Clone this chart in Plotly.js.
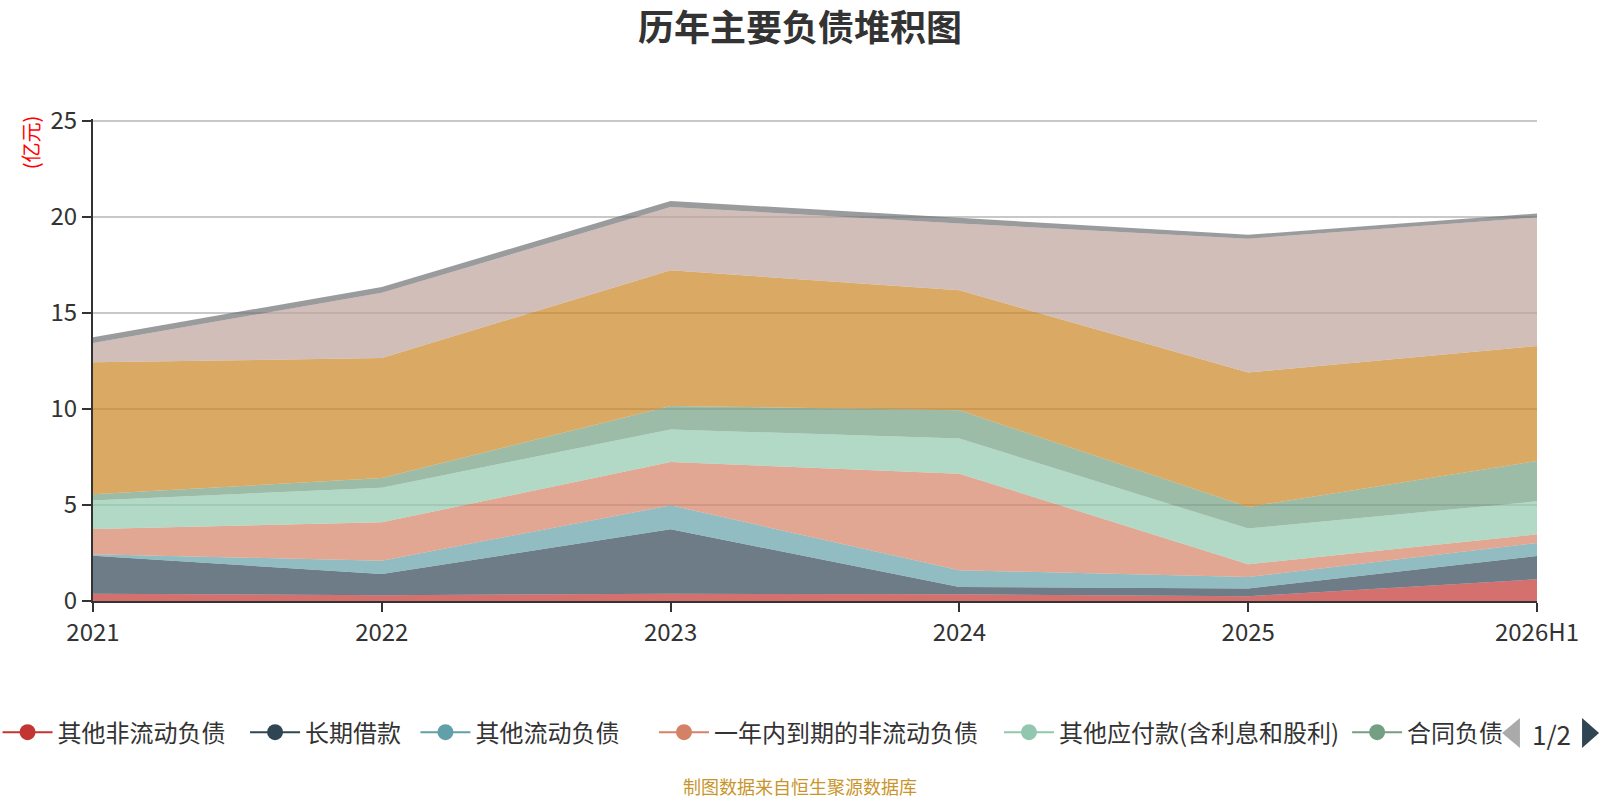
<!DOCTYPE html>
<html>
<head>
<meta charset="utf-8">
<script src="https://cdn.plot.ly/plotly-3.0.1.min.js"></script>
<style>
  html, body { margin: 0; padding: 0; background: #fff; }
  #chart { width: 1600px; height: 800px; }
</style>
</head>
<body>
<div id="chart"></div>
<script>
const years = ["2021", "2022", "2023", "2024", "2025", "2026H1"];

// 单位：亿元，自下而上堆积
const otherNonCurrent = [0.38, 0.3, 0.38, 0.35, 0.25, 1.13];
const longTermLoans = [1.98, 1.1, 3.35, 0.38, 0.4, 1.21];
const otherCurrent = [0.07, 0.7, 1.25, 0.87, 0.6, 0.68];
const currentPortion = [1.32, 2.0, 2.26, 5.03, 0.66, 0.45];
const otherPayables = [1.49, 1.8, 1.69, 1.83, 1.86, 1.72];
const contractLiab = [0.32, 0.5, 1.23, 1.47, 1.13, 2.1];
const accountsPayable = [6.87, 6.25, 7.06, 6.25, 7.0, 5.99];
const shortTermLoans = [1.01, 3.4, 3.3, 3.48, 6.97, 6.69];
const taxesPayable = [0.3, 0.3, 0.31, 0.3, 0.2, 0.21];

const seriesNames = [
  "其他非流动负债",
  "长期借款",
  "其他流动负债",
  "一年内到期的非流动负债",
  "其他应付款(含利息和股利)",
  "合同负债",
  "应付账款",
  "短期借款",
  "应交税费",
];
const seriesValues = [
  otherNonCurrent, longTermLoans, otherCurrent, currentPortion,
  otherPayables, contractLiab, accountsPayable, shortTermLoans, taxesPayable,
];
const palette = [
  "#c23531", "#2f4554", "#61a0a8", "#d48265", "#91c7ae",
  "#749f83", "#ca8622", "#bda29a", "#6e7074",
];
// 图例第 1 页的条目位置（paper x）
const legendSlots = [-0.0661, 0.1053, 0.2233, 0.3885, 0.6274, 0.8685];

function hexToRgba(hex, a) {
  const n = parseInt(hex.slice(1), 16);
  return `rgba(${(n >> 16) & 255},${(n >> 8) & 255},${n & 255},${a})`;
}

const font = "'Noto Sans CJK SC', 'Noto Sans', sans-serif";

const areaTraces = seriesNames.map((name, i) => ({
  type: "scatter",
  mode: "lines",
  name: name,
  x: years,
  y: seriesValues[i],
  stackgroup: "debt",
  line: { width: 0, color: palette[i] },
  fillcolor: hexToRgba(palette[i], 0.7),
  showlegend: false,
  hoverinfo: "skip",
}));

// legend-only entries (line + circle), one small legend each so spacing follows the original
const legendKey = (i) => (i === 0 ? "legend" : "legend" + (i + 1));
const legendTraces = legendSlots.map((_, i) => ({
  type: "scatter",
  mode: "lines+markers",
  name: seriesNames[i],
  x: [null],
  y: [null],
  line: { color: palette[i], width: 2 },
  marker: { color: palette[i], size: 16 },
  showlegend: true,
  legend: legendKey(i),
}));

const layout = {
  width: 1600,
  height: 800,
  margin: { l: 93, r: 63, t: 119, b: 199, autoexpand: false },
  paper_bgcolor: "#fff",
  plot_bgcolor: "#fff",
  font: { family: font, color: "#333" },
  hovermode: false,
  title: {
    text: "<b>历年主要负债堆积图</b>",
    font: { size: 36, color: "#333", family: font },
    x: 0.5,
    xanchor: "center",
    y: 0.965,
    yanchor: "middle",
  },
  xaxis: {
    type: "category",
    range: [0, years.length - 1],
    showgrid: false,
    zeroline: false,
    showline: true,
    linecolor: "#333",
    linewidth: 2,
    ticks: "outside",
    ticklen: 9,
    tickwidth: 2,
    tickcolor: "#333",
    tickfont: { size: 24, color: "#333" },
    fixedrange: true,
  },
  yaxis: {
    range: [0, 25.1],
    tickvals: [0, 5, 10, 15, 20, 25],
    showgrid: true,
    gridcolor: "#c8c8c8",
    gridwidth: 2,
    zeroline: false,
    showline: true,
    linecolor: "#333",
    linewidth: 2,
    ticks: "outside",
    ticklen: 9,
    tickwidth: 2,
    tickcolor: "#333",
    tickfont: { size: 24, color: "#333" },
    fixedrange: true,
  },
  shapes: [
    {
      type: "path",
      xref: "paper", yref: "paper",
      path: "M0.9882,-0.2427 L0.9882,-0.3050 L0.9758,-0.2739 Z",
      fillcolor: "#aaaaaa",
      line: { width: 0 },
    },
    {
      type: "path",
      xref: "paper", yref: "paper",
      path: "M1.0312,-0.2427 L1.0312,-0.3050 L1.0430,-0.2739 Z",
      fillcolor: "#2f4554",
      line: { width: 0 },
    },
  ],
  annotations: [
    {
      text: "(亿元)",
      xref: "paper", yref: "paper",
      x: -0.0435, y: 0.952,
      xanchor: "center", yanchor: "middle",
      textangle: -90,
      showarrow: false,
      font: { size: 20, color: "#ff0000", family: font },
    },
    {
      text: "1/2",
      xref: "paper", yref: "paper",
      x: 1.0097, y: -0.274,
      xanchor: "center", yanchor: "middle",
      showarrow: false,
      font: { size: 26, color: "#333", family: font },
    },
    {
      text: "制图数据来自恒生聚源数据库",
      xref: "paper", yref: "paper",
      x: 0.4896, y: -0.384,
      xanchor: "center", yanchor: "middle",
      showarrow: false,
      font: { size: 18, color: "#c9952b", family: font },
    },
  ],
};

legendSlots.forEach((x, i) => {
  layout[legendKey(i)] = {
    orientation: "h",
    x: x,
    xanchor: "left",
    y: -0.273,
    yanchor: "middle",
    itemwidth: 50,
    itemclick: false,
    bgcolor: "rgba(0,0,0,0)",
    font: { size: 24, color: "#333", family: font },
  };
});

Plotly.newPlot("chart", areaTraces.concat(legendTraces), layout, {
  displayModeBar: false,
  staticPlot: true,
});
</script>
</body>
</html>
